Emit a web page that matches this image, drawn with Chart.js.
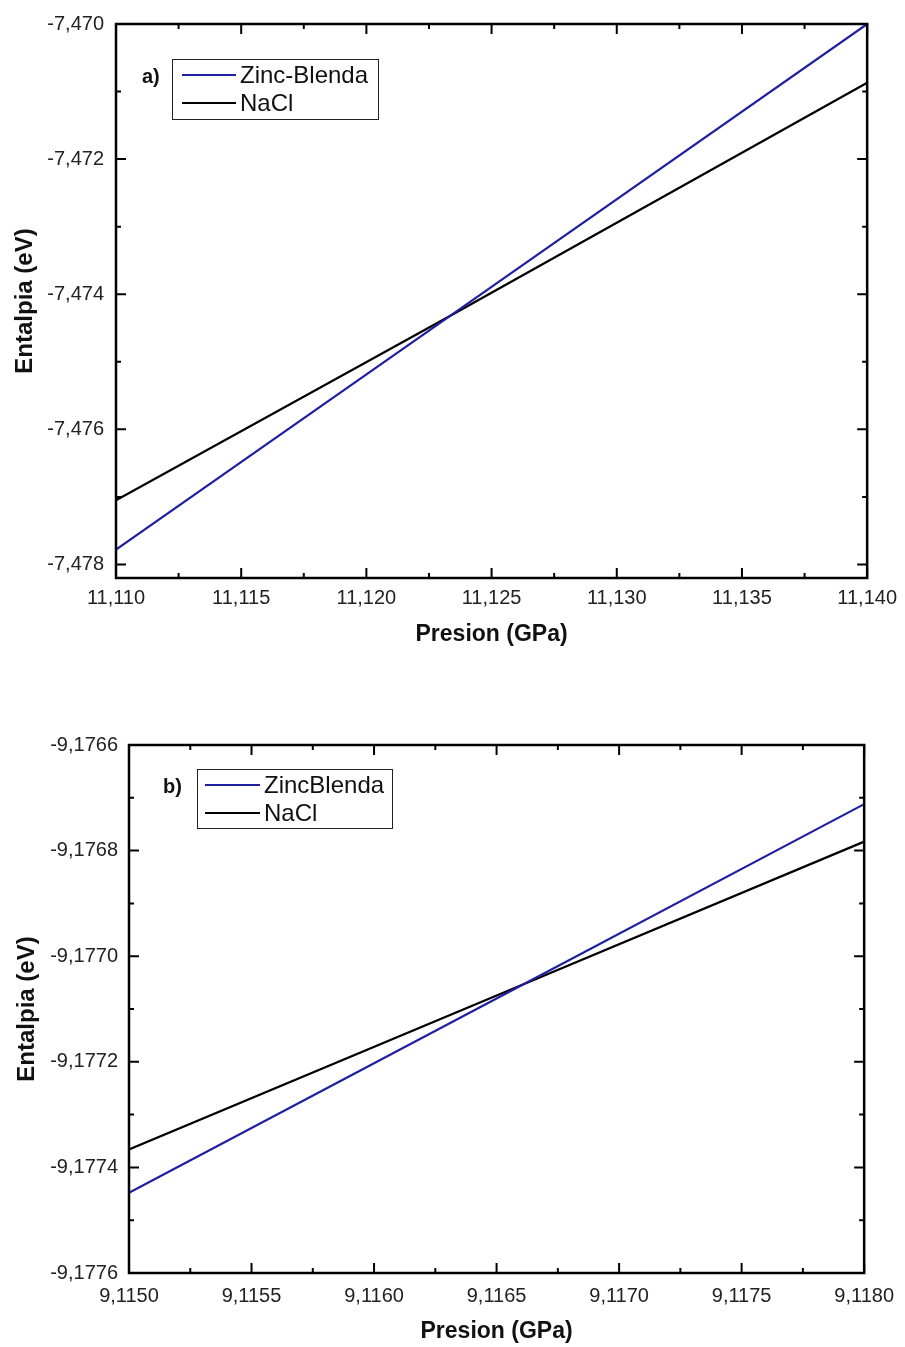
<!DOCTYPE html>
<html>
<head>
<meta charset="utf-8">
<script src="https://cdn.jsdelivr.net/npm/chart.js@4/dist/chart.umd.min.js"></script>
<style>
    body { margin: 0; background: #fff; }
    canvas { display: block; }
</style>
</head>
<body>
<canvas id="chartA" width="905" height="680"></canvas>
<canvas id="chartB" width="905" height="667"></canvas>
<script>
// a) Presion 11,110 - 11,140 GPa
const presionA = [11.110, 11.1233, 11.140];
const zincBlendaA = [-7.47778, -7.47433, -7.47000];
const naclA = [-7.47705, -7.47433, -7.47087];
const xTicksA = [11.110, 11.115, 11.120, 11.125, 11.130, 11.135, 11.140];
const yTicksA = [-7.478, -7.476, -7.474, -7.472, -7.470];

// b) Presion 9,1150 - 9,1180 GPa
const presionB = [9.1150, 9.11661, 9.1180];
const zincBlendaB = [-9.177448, -9.177053, -9.176712];
const naclB = [-9.177366, -9.177053, -9.176783];
const xTicksB = [9.1150, 9.1155, 9.1160, 9.1165, 9.1170, 9.1175, 9.1180];
const yTicksB = [-9.1776, -9.1774, -9.1772, -9.1770, -9.1768, -9.1766];

const BLUE = '#1f1fa3';
const FONT = "'Liberation Sans', Arial, sans-serif";

function toPoints(xs, ys) {
    return xs.map((x, i) => ({ x: x, y: ys[i] }));
}

function comma(decimals) {
    return value => value.toFixed(decimals).replace('.', ',');
}

// frame, inward ticks on all four sides, and the boxed legend
const framePlugin = {
    id: 'frame',
    afterDraw(chart, args, opts) {
        const ctx = chart.ctx;
        const area = chart.chartArea;
        const xs = chart.scales.x;
        const ys = chart.scales.y;
        ctx.save();
        ctx.strokeStyle = '#000';
        ctx.lineWidth = 2;

        const marks = (scale, horizontal) => {
            const vals = scale.ticks.map(t => t.value);
            const list = [];
            vals.forEach((v, i) => {
                list.push({ v: v, len: 10 });
                if (i < vals.length - 1) list.push({ v: (v + vals[i + 1]) / 2, len: 5 });
            });
            list.forEach(m => {
                const p = scale.getPixelForValue(m.v);
                ctx.beginPath();
                if (horizontal) {
                    ctx.moveTo(p, area.bottom); ctx.lineTo(p, area.bottom - m.len);
                    ctx.moveTo(p, area.top); ctx.lineTo(p, area.top + m.len);
                } else {
                    ctx.moveTo(area.left, p); ctx.lineTo(area.left + m.len, p);
                    ctx.moveTo(area.right, p); ctx.lineTo(area.right - m.len, p);
                }
                ctx.stroke();
            });
        };
        marks(xs, true);
        marks(ys, false);

        ctx.lineWidth = 2.5;
        ctx.strokeRect(area.left, area.top, area.right - area.left, area.bottom - area.top);

        // legend box
        const b = opts.box;
        ctx.lineWidth = 1;
        ctx.strokeStyle = '#222';
        ctx.strokeRect(b.x + 0.5, b.y + 0.5, b.w, b.h);
        ctx.font = '24px ' + FONT;
        ctx.textBaseline = 'middle';
        ctx.textAlign = 'left';
        chart.data.datasets.forEach((ds, i) => {
            const y = b.y + b.rowTop + i * b.rowGap;
            ctx.strokeStyle = ds.borderColor;
            ctx.lineWidth = 2;
            ctx.beginPath();
            ctx.moveTo(b.x + b.lineStart, y);
            ctx.lineTo(b.x + b.lineStart + b.lineLen, y);
            ctx.stroke();
            ctx.fillStyle = '#111';
            ctx.fillText(ds.label, b.x + b.lineStart + b.lineLen + 4, y + 1);
        });
        ctx.font = 'bold 20px ' + FONT;
        ctx.fillStyle = '#111';
        ctx.fillText(opts.tag, opts.tagX, b.y + b.rowTop + 2);
        ctx.restore();
    }
};

function makeChart(id, cfg) {
    return new Chart(document.getElementById(id), {
        type: 'line',
        data: {
            datasets: [
                { label: cfg.names[0], data: toPoints(cfg.presion, cfg.zinc), borderColor: BLUE, borderWidth: 2.2, pointRadius: 0, tension: 0 },
                { label: cfg.names[1], data: toPoints(cfg.presion, cfg.nacl), borderColor: '#000', borderWidth: 2.2, pointRadius: 0, tension: 0 }
            ]
        },
        options: {
            responsive: false,
            animation: false,
            layout: { padding: cfg.padding },
            plugins: {
                legend: { display: false },
                tooltip: { enabled: false },
                frame: { box: cfg.box, tag: cfg.tag, tagX: cfg.tagX }
            },
            scales: {
                x: {
                    type: 'linear',
                    min: cfg.xTicks[0],
                    max: cfg.xTicks[cfg.xTicks.length - 1],
                    afterBuildTicks: s => { s.ticks = cfg.xTicks.map(v => ({ value: v })); },
                    afterFit: s => { s.height = cfg.xHeight; },
                    grid: { display: false, drawTicks: false },
                    border: { display: false },
                    ticks: {
                        autoSkip: false, maxRotation: 0, padding: cfg.xPad,
                        color: '#222', font: { family: FONT, size: 20 },
                        callback: comma(cfg.xDec)
                    },
                    title: {
                        display: true, text: 'Presion (GPa)', color: '#111',
                        font: { family: FONT, size: 23, weight: 'bold' },
                        padding: { top: 0, bottom: cfg.xTitlePad }
                    }
                },
                y: {
                    min: cfg.yMin,
                    max: cfg.yTicks[cfg.yTicks.length - 1],
                    afterBuildTicks: s => { s.ticks = cfg.yTicks.map(v => ({ value: v })); },
                    afterFit: s => { s.width = cfg.yWidth; },
                    grid: { display: false, drawTicks: false },
                    border: { display: false },
                    ticks: {
                        autoSkip: false, padding: cfg.yPad,
                        color: '#222', font: { family: FONT, size: 20 },
                        callback: comma(cfg.yDec)
                    },
                    title: {
                        display: true, text: 'Entalpia (eV)', color: '#111',
                        font: { family: FONT, size: 24, weight: 'bold' },
                        padding: { top: cfg.yTitlePad, bottom: 0 }
                    }
                }
            }
        },
        plugins: [framePlugin]
    });
}

makeChart('chartA', {
    names: ['Zinc-Blenda', 'NaCl'],
    presion: presionA, zinc: zincBlendaA, nacl: naclA,
    xTicks: xTicksA, yTicks: yTicksA, yMin: -7.4782,
    xDec: 3, yDec: 3,
    padding: { top: 20, right: 36, left: 0, bottom: 0 },
    yWidth: 116, xHeight: 102, xPad: 8, yPad: 12, xTitlePad: 32, yTitlePad: 11,
    box: { x: 172, y: 59, w: 206, h: 60, rowTop: 16, rowGap: 28, lineStart: 10, lineLen: 54 },
    tag: 'a)', tagX: 142
});

makeChart('chartB', {
    names: ['ZincBlenda', 'NaCl'],
    presion: presionB, zinc: zincBlendaB, nacl: naclB,
    xTicks: xTicksB, yTicks: yTicksB, yMin: -9.1776,
    xDec: 4, yDec: 4,
    padding: { top: 65, right: 37, left: 0, bottom: 0 },
    yWidth: 129, xHeight: 74, xPad: 11, yPad: 11, xTitlePad: 2, yTitlePad: 13,
    box: { x: 197, y: 89, w: 195, h: 59, rowTop: 16, rowGap: 28, lineStart: 8, lineLen: 55 },
    tag: 'b)', tagX: 163
});
</script>
</body>
</html>
